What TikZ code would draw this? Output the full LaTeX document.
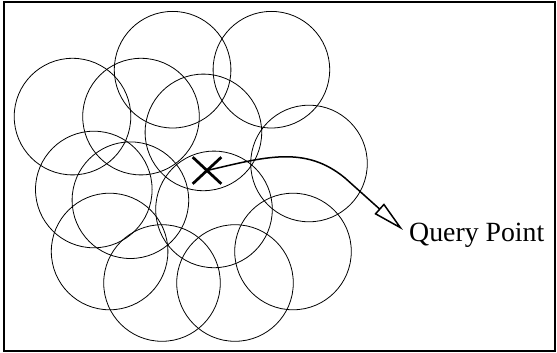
\documentclass[tikz,border=0pt]{standalone}
\usepackage{fontspec}
\setmainfont{Liberation Serif}
\usetikzlibrary{arrows.meta,shapes.misc}

\begin{document}
\begin{tikzpicture}[x=1pt,y=-1pt, cover/.style={line width=0.8pt},
  every node/.style={font=\fontsize{27.8}{33}\selectfont}]
\useasboundingbox (0,0) rectangle (557,353);
\draw[line width=2pt] (4,2) rectangle (555,350.5);
% the covering discs
\foreach \cx/\cy in {172.6/69.7, 271.4/69.7, 72.5/116.6, 141/116.6, 203.4/132.4,
  309/163.5, 93.8/189.5, 130.4/200.2, 214/209.4, 109.6/251.5, 162/283,
  235/283, 293/251.5}
  \draw[cover] (\cx,\cy) circle[radius=58.3];
\node[cross out, draw, line width=2.7pt, minimum width=26pt, minimum height=24pt,
  inner sep=0pt] (qp) at (207,170.5) {};
\node[anchor=base west, inner sep=0pt] (lbl) at (409,241) {Query Point};
\coordinate (tip) at (403,230);
\draw[line width=1.5pt, -{Triangle[open,length=32pt,width=14pt]}]
  (qp.center) .. controls (265,157) and (305,145) .. (345,178) -- (tip);
\end{tikzpicture}
\end{document}
